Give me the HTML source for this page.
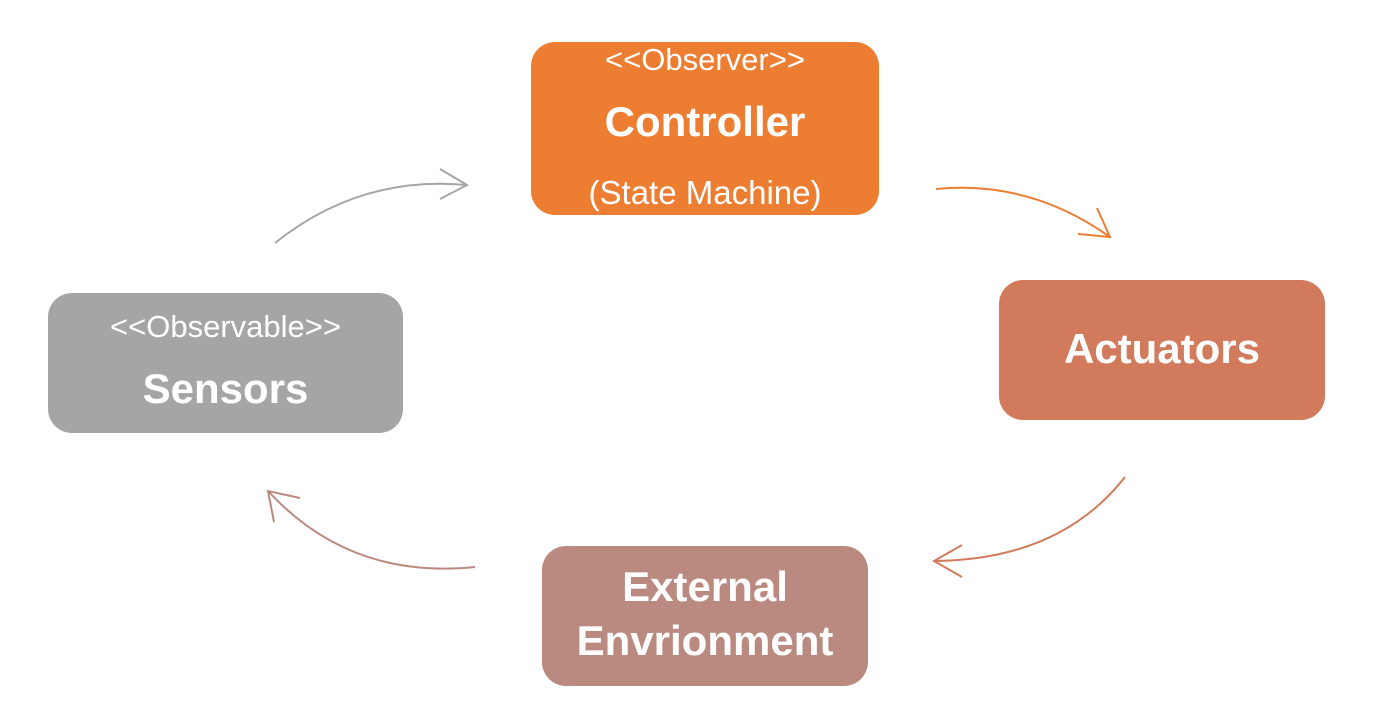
<!DOCTYPE html>
<html><head><style>
body{margin:0;width:1376px;height:714px;background:#fff;position:relative;overflow:hidden;font-family:"Liberation Sans","DejaVu Sans",sans-serif;color:#fff}
.b{position:absolute;border-radius:24px}
.t{position:absolute;left:0;right:0;text-align:center;white-space:nowrap;line-height:1}
.big{font-size:42px;font-weight:bold}
.sm{font-size:31px}
</style></head><body>
<svg width="1376" height="714" style="position:absolute;left:0;top:0" fill="none" stroke-width="2">
<path d="M275 243 Q360 175 467 185" stroke="#a5a5a5"/>
<path d="M440 169 L467 185 L440 199" stroke="#a5a5a5"/>
<path d="M936 189 Q1030 180 1110 237" stroke="#ed7d31"/>
<path d="M1097 208 L1110 237 L1078 234" stroke="#ed7d31"/>
<path d="M1125 477 Q1060 560 934 561" stroke="#d27b5c"/>
<path d="M962 545 L934 561 L962 577" stroke="#d27b5c"/>
<path d="M475 567 Q350 580 268 491" stroke="#ba8a80"/>
<path d="M300 498 L268 491 L274 522" stroke="#ba8a80"/>
</svg>
<div class="b" style="left:531px;top:42px;width:348px;height:173px;background:#ed7d31">
<div class="t sm" style="top:2px">&lt;&lt;Observer&gt;&gt;</div>
<div class="t big" style="top:59px">Controller</div>
<div class="t" style="top:134px;font-size:33px">(State Machine)</div></div>
<div class="b" style="left:999px;top:280px;width:326px;height:140px;background:#d27b5c">
<div class="t big" style="top:48px">Actuators</div></div>
<div class="b" style="left:542px;top:546px;width:326px;height:140px;background:#ba8a80">
<div class="t big" style="top:20px">External</div>
<div class="t big" style="top:74px">Envrionment</div></div>
<div class="b" style="left:48px;top:293px;width:355px;height:140px;background:#a5a5a5">
<div class="t sm" style="top:18px">&lt;&lt;Observable&gt;&gt;</div>
<div class="t big" style="top:75px">Sensors</div></div>
</body></html>
